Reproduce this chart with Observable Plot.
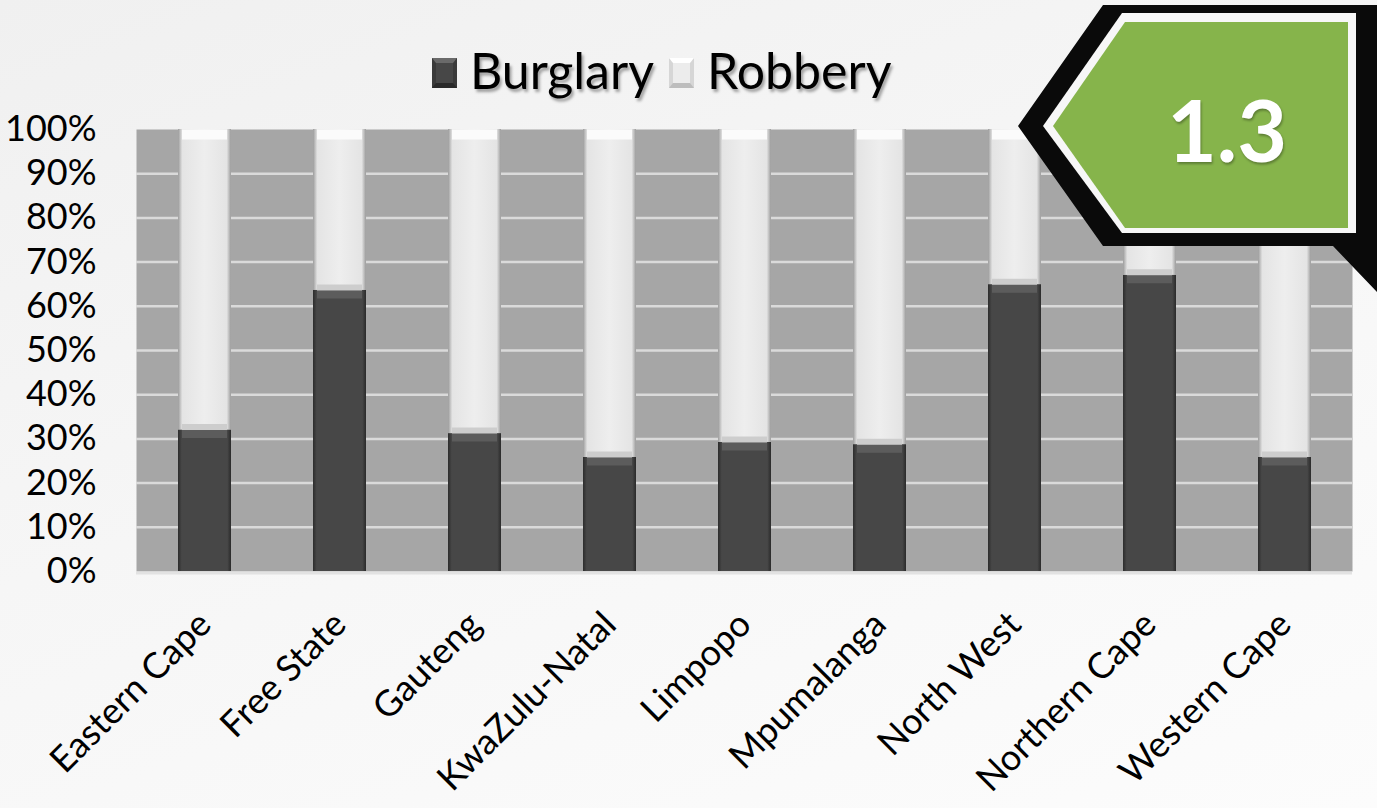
<!DOCTYPE html>
<html>
<head>
<meta charset="utf-8">
<script src="https://cdn.jsdelivr.net/npm/d3@7"></script>
<script src="https://cdn.jsdelivr.net/npm/@observablehq/plot@0.6"></script>
<style>
  html, body { margin: 0; padding: 0; }
  body {
    width: 1377px; height: 808px; overflow: hidden;
    background: linear-gradient(160deg, #f0f0f0 0%, #f6f6f6 45%, #fcfcfc 100%);
    font-family: Lato, sans-serif;
  }
  #wrap { position: relative; width: 1377px; height: 808px; }
  #legend { position: relative; height: 100px; width: 1377px; }
  .sw { position: absolute; top: 58px; width: 25px; height: 30px; box-sizing: border-box; border-style: solid; border-width: 5px 4px; }
  .sw.b { left: 432px; background: #474747; border-color: #6a6a6a #3a3a3a #2a2a2a #3a3a3a; }
  .sw.r { left: 669px; background: #ececec; border-color: #ffffff #d6d6d6 #bdbdbd #d6d6d6; }
  .lt { position: absolute; top: 40px; font-size: 50px; line-height: 60px; color: #000; text-shadow: 2px 3px 3px rgba(0,0,0,0.35); }
  #badge { position: absolute; left: 0; top: 0; pointer-events: none; }
</style>
</head>
<body>
<div id="wrap">
  <div id="legend"></div>
  <div id="chart"></div>
  <svg id="badge" width="1377" height="808"></svg>
</div>
<svg width="0" height="0" style="position:absolute">
  <defs>
    <linearGradient id="gB" x1="0" x2="1" y1="0" y2="0">
      <stop offset="0" stop-color="#2c2c2c"/>
      <stop offset="0.07" stop-color="#474747"/>
      <stop offset="0.93" stop-color="#474747"/>
      <stop offset="1" stop-color="#2a2a2a"/>
    </linearGradient>
    <linearGradient id="gR" x1="0" x2="1" y1="0" y2="0">
      <stop offset="0" stop-color="#9c9c9c"/>
      <stop offset="0.08" stop-color="#e4e4e4"/>
      <stop offset="0.5" stop-color="#eeeeee"/>
      <stop offset="0.92" stop-color="#e4e4e4"/>
      <stop offset="1" stop-color="#9c9c9c"/>
    </linearGradient>
  </defs>
</svg>
<script>
// ---- data ----
const provinces = ["Eastern Cape", "Free State", "Gauteng", "KwaZulu-Natal", "Limpopo", "Mpumalanga", "North West", "Northern Cape", "Western Cape"];
const series = ["Burglary", "Robbery"];
const burglary = [32.0, 63.6, 31.2, 25.8, 29.2, 28.7, 64.9, 67.0, 25.8];
const robbery  = [68.0, 36.4, 68.8, 74.2, 70.8, 71.3, 35.1, 33.0, 74.2];
const yTicks = [0, 0.1, 0.2, 0.3, 0.4, 0.5, 0.6, 0.7, 0.8, 0.9, 1];
const gridTicks = [0.1, 0.2, 0.3, 0.4, 0.5, 0.6, 0.7, 0.8, 0.9];
const badgeLabel = "1.3";

const rows = [];
provinces.forEach((p, i) => rows.push({province: p, series: "Burglary", value: burglary[i]}));
provinces.forEach((p, i) => rows.push({province: p, series: "Robbery", value: robbery[i]}));

// ---- legend ----
const legend = document.getElementById("legend");
legend.innerHTML =
  '<div class="sw b"></div><div class="lt" style="left:470px">' + series[0] + '</div>' +
  '<div class="sw r"></div><div class="lt" style="left:707px">' + series[1] + '</div>';

// ---- chart ----
const stackOpts = {x: "province", y: "value", z: "series", offset: "normalize", order: series};
const isB = d => (d.series === "Burglary" ? 1 : 0);
const isR = d => (d.series === "Robbery" ? 1 : 0);
const chart = Plot.plot({
  width: 1377,
  height: 708,
  marginTop: 29,
  marginBottom: 237,
  marginLeft: 136,
  marginRight: 25,
  style: {fontFamily: "Lato, sans-serif", fontSize: "36px", color: "#000", background: "transparent", overflow: "visible"},
  x: {domain: provinces, paddingInner: 0.61, paddingOuter: 0.305, label: null},
  y: {domain: [0, 1], label: null},
  color: {domain: series, range: ["url(#gB)", "url(#gR)"]},
  opacity: {type: "identity"},
  marks: [
    Plot.frame({fill: "#a6a6a6", stroke: null}),
    Plot.ruleY(gridTicks, {stroke: "#dadada", strokeWidth: 2.5}),
    Plot.ruleY([0], {stroke: "#e2e2e2", strokeWidth: 3, dy: 1.5}),
    Plot.barY(rows, Plot.stackY({...stackOpts, fill: "series"})),
    Plot.tickY(rows, Plot.stackY2({...stackOpts, stroke: "#5c5c5c", strokeOpacity: isB, strokeWidth: 8, dy: 4, insetLeft: 4, insetRight: 4})),
    Plot.tickY(rows, Plot.stackY1({...stackOpts, stroke: "#cdcdcd", strokeOpacity: isR, strokeWidth: 6, dy: -3, insetLeft: 4, insetRight: 4})),
    Plot.tickY(rows, Plot.stackY2({...stackOpts, stroke: "#fbfbfb", strokeOpacity: isR, strokeWidth: 10, dy: 5, insetLeft: 4, insetRight: 4})),
    Plot.axisY({ticks: yTicks, tickFormat: d => d3.format(".0%")(d), tickSize: 0, tickPadding: 40, fontSize: 36}),
    Plot.axisX({tickSize: 0, tickRotate: -45, tickPadding: 47, fontSize: 36, dx: 0})
  ]
});
document.getElementById("chart").appendChild(chart);

// ---- badge (decorative annotation) ----
const badge = d3.select("#badge");
badge.append("polygon").attr("points", "1018,126 1103,5 1377,5 1377,292 1333,246 1103,246").attr("fill", "#0a0a0a");
badge.append("polygon").attr("points", "1043,126 1122,13 1356,13 1356,233 1122,233").attr("fill", "#f7f7f7");
badge.append("polygon").attr("points", "1053,126 1125,22 1348,22 1348,228 1125,228").attr("fill", "#86b44b");
badge.append("text").attr("x", 1227).attr("y", 162).attr("text-anchor", "middle")
  .attr("font-family", "Lato, sans-serif").attr("font-weight", 700).attr("font-size", 86)
  .attr("fill", "#ffffff").style("filter", "drop-shadow(1px 2px 1px rgba(0,0,0,0.3))").text(badgeLabel);
</script>
</body>
</html>
